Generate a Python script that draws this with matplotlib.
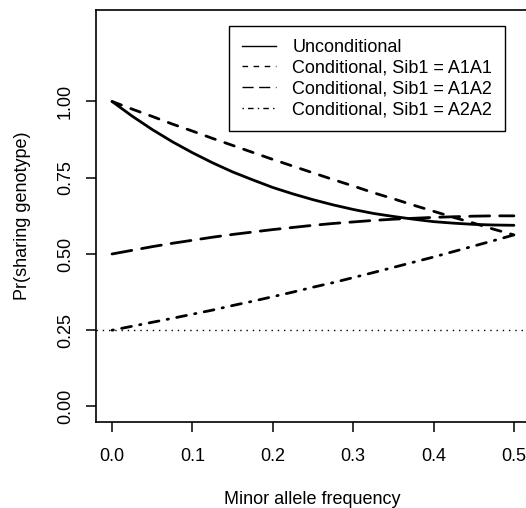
import matplotlib
matplotlib.use('Agg')
import matplotlib.pyplot as plt
from matplotlib.lines import Line2D

# minor allele frequency and the four sharing curves
maf = [0.0, 0.025, 0.05, 0.075, 0.1, 0.125, 0.15, 0.175, 0.2, 0.225, 0.25,
       0.275, 0.3, 0.325, 0.35, 0.375, 0.4, 0.425, 0.45, 0.475, 0.5]
uncond = [1.0, 0.952, 0.908, 0.868, 0.832, 0.799, 0.769, 0.743, 0.718, 0.697, 0.678,
          0.661, 0.646, 0.633, 0.623, 0.614, 0.606, 0.601, 0.597, 0.595, 0.594]
sib_a1a1 = [1.0, 0.975, 0.951, 0.926, 0.903, 0.879, 0.856, 0.833, 0.810, 0.788, 0.766,
            0.744, 0.723, 0.701, 0.681, 0.660, 0.640, 0.620, 0.601, 0.581, 0.5625]
sib_a1a2 = [0.5, 0.512, 0.524, 0.535, 0.545, 0.555, 0.564, 0.572, 0.580, 0.587, 0.594,
            0.600, 0.605, 0.610, 0.614, 0.617, 0.620, 0.622, 0.624, 0.625, 0.625]
sib_a2a2 = [0.25, 0.263, 0.276, 0.289, 0.3025, 0.316, 0.331, 0.345, 0.360, 0.375, 0.391,
            0.406, 0.4225, 0.439, 0.456, 0.473, 0.490, 0.508, 0.526, 0.544, 0.5625]
baseline = 0.25

labels = ['Unconditional', 'Conditional, Sib1 = A1A1',
          'Conditional, Sib1 = A1A2', 'Conditional, Sib1 = A2A2']

plt.rcParams['font.family'] = ['Liberation Sans', 'DejaVu Sans']
plt.rcParams['font.size'] = 13

W, H = 526, 508
fig = plt.figure(figsize=(W / 100, H / 100), dpi=100)
ax = fig.add_axes([96 / W, 1 - 421.7 / H, (530 - 96) / W, (421.7 - 10) / H])

dash_a1a1 = (3.6, 3.6)
dash_a1a2 = (7.2, 3.6)
dash_a2a2 = (0.5, 3.0, 3.6, 3.0)

ax.plot(maf, uncond, color='black', lw=2, solid_capstyle='round')
ax.plot(maf, sib_a1a1, color='black', lw=2, dashes=dash_a1a1, dash_capstyle='round')
ax.plot(maf, sib_a1a2, color='black', lw=2, dashes=dash_a1a2, dash_capstyle='round')
ax.plot(maf, sib_a2a2, color='black', lw=2, dashes=dash_a2a2, dash_capstyle='round')
ax.axhline(baseline, color='black', lw=1, dashes=(1, 3.5))

ax.set_xlim(-0.02, 0.52)
ax.set_ylim(-0.05, 1.30)
ax.set_xticks([0.0, 0.1, 0.2, 0.3, 0.4, 0.5])
ax.set_xticklabels(['0.0', '0.1', '0.2', '0.3', '0.4', '0.5'])
ax.set_yticks([0.0, 0.25, 0.5, 0.75, 1.0])
ax.set_yticklabels(['0.00', '0.25', '0.50', '0.75', '1.00'], rotation=90, va='center')
ax.tick_params(axis='both', length=7, width=1.1, color='black')
ax.tick_params(axis='x', pad=12)
ax.tick_params(axis='y', pad=9)
for s in ax.spines.values():
    s.set_linewidth(1.2)

ax.set_xlabel('Minor allele frequency')
ax.set_ylabel('Pr(sharing genotype)')
ax.xaxis.set_label_coords((312 - 96) / 434, (421.7 - 499) / 411.7)
ax.xaxis.label.set_va('center')
ax.yaxis.set_label_coords((22 - 96) / 434, 0.5)
ax.yaxis.label.set_va('center')

handles = [Line2D([], [], color='black', lw=1),
           Line2D([], [], color='black', lw=1, dashes=(4, 4)),
           Line2D([], [], color='black', lw=1, dashes=(8, 4)),
           Line2D([], [], color='black', lw=1, dashes=(1, 3, 4, 3))]
leg = ax.legend(handles, labels, loc='upper right',
                bbox_to_anchor=(505 / W, 1 - 26 / H), bbox_transform=fig.transFigure,
                borderaxespad=0, fancybox=False, framealpha=1, edgecolor='black',
                handlelength=1.9, handletextpad=0.9, labelspacing=0.21, borderpad=0.72)
leg.get_frame().set_linewidth(1.0)

fig.savefig('out.png', dpi=100)
